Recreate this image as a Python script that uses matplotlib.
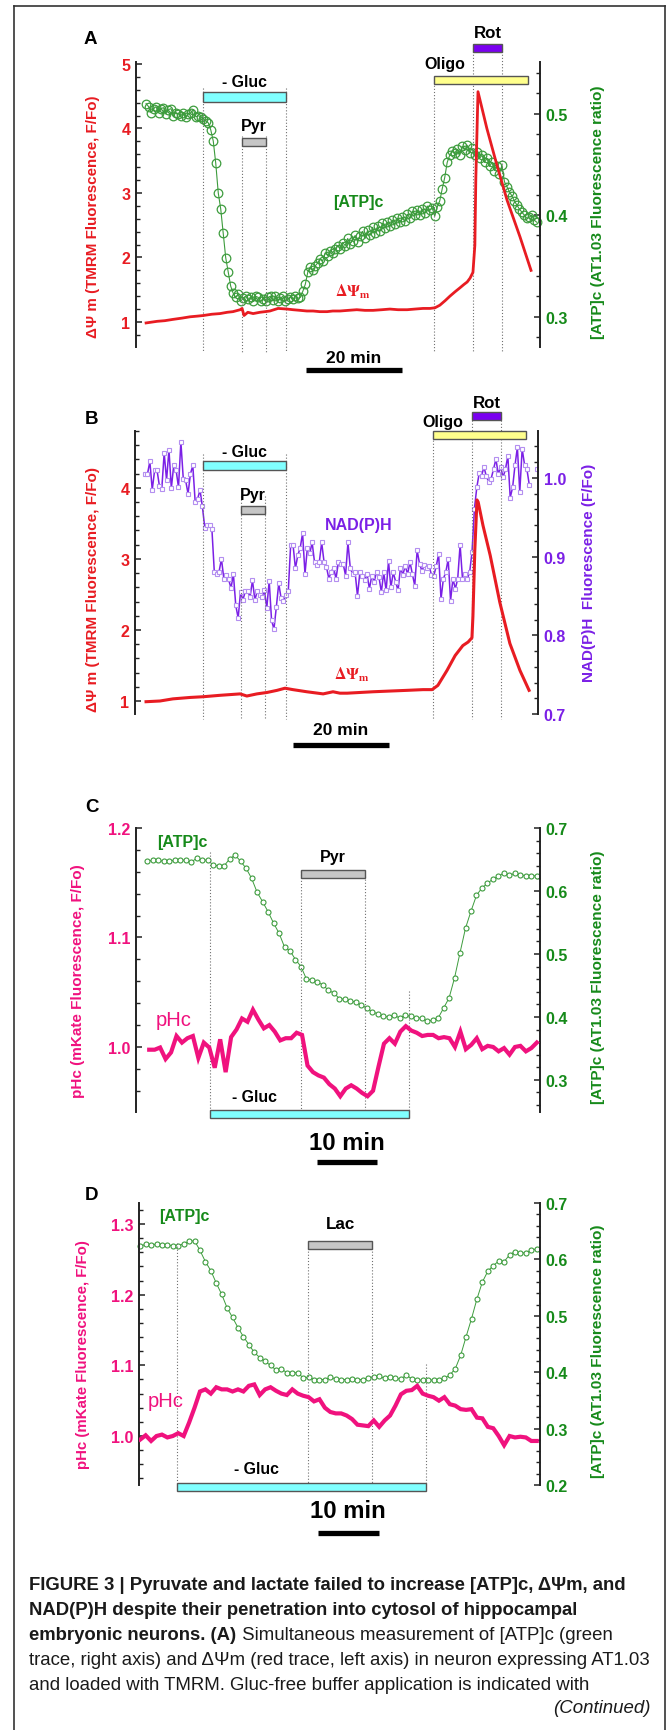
import numpy as np
import matplotlib
matplotlib.use("Agg")
import matplotlib.pyplot as plt
from matplotlib.patches import Rectangle
from matplotlib.lines import Line2D
from matplotlib.transforms import blended_transform_factory
from matplotlib.ticker import MultipleLocator, FormatStrFormatter
from matplotlib import font_manager

# ---------------------------------------------------------------- data
# Panel A : [ATP]c (right axis) sampled regularly between these times (min)
atp_a_t = (2.1, 83.5)
atp_a = [0.510, 0.507, 0.501, 0.505, 0.507, 0.501, 0.505, 0.506, 0.500, 0.504,
         0.505, 0.498, 0.501, 0.500, 0.498, 0.501, 0.497, 0.500, 0.501, 0.504,
         0.497, 0.498, 0.497, 0.495, 0.493, 0.491, 0.484, 0.473, 0.451, 0.422,
         0.406, 0.382, 0.358, 0.344, 0.330, 0.323, 0.319, 0.322, 0.315, 0.318,
         0.320, 0.317, 0.319, 0.315, 0.320, 0.319, 0.315, 0.317, 0.315, 0.319,
         0.320, 0.316, 0.320, 0.315, 0.318, 0.320, 0.315, 0.317, 0.319, 0.317,
         0.320, 0.318, 0.319, 0.325, 0.332, 0.344, 0.349, 0.346, 0.350, 0.353,
         0.357, 0.355, 0.363, 0.360, 0.365, 0.363, 0.367, 0.370, 0.367,
         0.373, 0.370, 0.377, 0.372, 0.375, 0.380, 0.374, 0.379, 0.384, 0.377,
         0.385, 0.380, 0.388, 0.382, 0.389, 0.384, 0.392, 0.387, 0.393, 0.389,
         0.395, 0.391, 0.397, 0.393, 0.398, 0.394, 0.401, 0.397, 0.404, 0.400,
         0.405, 0.400, 0.406, 0.402, 0.409, 0.405, 0.407, 0.399, 0.408, 0.414,
         0.426, 0.437, 0.452, 0.459, 0.463, 0.461, 0.465, 0.459, 0.468, 0.464,
         0.469, 0.461, 0.466, 0.459, 0.462, 0.456, 0.459, 0.452, 0.456, 0.448,
         0.452, 0.444, 0.448, 0.441, 0.449, 0.433, 0.428, 0.423, 0.419, 0.414,
         0.410, 0.406, 0.403, 0.400, 0.397, 0.398, 0.400, 0.395, 0.393]

# Panel A : delta psi m (left axis)
dpsi_a_t = [2.1, 4.4, 6.0, 7.7, 9.6, 11.25, 12.7, 14.0, 15.8, 17.5, 19.0, 20.2, 21.7,
            22.1, 22.5, 23.3, 24.4, 25.8, 26.9, 27.9, 29.6, 31.5, 32.7, 34.2, 35.6,
            36.9, 38.3, 39.8, 41.0, 42.5, 44.2, 46.0, 47.7, 49.4, 51.25, 52.9, 54.6,
            56.5, 58.1, 59.8, 61.25, 62.3, 63.3, 64.4, 65.4, 66.5, 67.5, 68.3, 69.0,
            69.6, 70.2, 70.6, 70.8, 71.25, 73.1, 75.2, 77.3, 80.0, 82.3]
dpsi_a = [0.985, 1.01, 1.02, 1.04, 1.06, 1.08, 1.09, 1.10, 1.12, 1.13, 1.15, 1.16, 1.19,
          1.21, 1.10, 1.15, 1.13, 1.15, 1.16, 1.17, 1.21, 1.20, 1.19, 1.18, 1.17,
          1.17, 1.16, 1.16, 1.17, 1.17, 1.18, 1.19, 1.18, 1.18, 1.19, 1.20, 1.19,
          1.19, 1.20, 1.21, 1.21, 1.22, 1.26, 1.33, 1.40, 1.47, 1.53, 1.58, 1.62,
          1.68, 1.77, 2.19, 3.22, 4.57, 4.00, 3.43, 2.89, 2.32, 1.80]

# Panel B : NAD(P)H (right axis), regular sampling between these times (min)
nadh_b_t = (2.1, 82.15)
nadh_b = [1.005, 1.005, 1.021, 0.985, 1.010, 1.010, 0.990, 0.986, 1.032, 0.997,
          1.036, 0.987, 1.016, 1.010, 0.988, 1.046, 0.999, 0.997, 0.980, 1.005,
          1.016, 0.969, 0.973, 0.985, 0.964, 0.937, 0.940, 0.940, 0.935, 0.881,
          0.878, 0.881, 0.897, 0.872, 0.877, 0.871, 0.860, 0.878, 0.838, 0.822,
          0.855, 0.845, 0.856, 0.856, 0.849, 0.870, 0.845, 0.856, 0.851, 0.849,
          0.857, 0.835, 0.869, 0.819, 0.808, 0.836, 0.866, 0.847, 0.843, 0.851,
          0.856, 0.915, 0.915, 0.885, 0.902, 0.911, 0.930, 0.878, 0.911, 0.904,
          0.918, 0.893, 0.890, 0.893, 0.918, 0.893, 0.887, 0.872, 0.881, 0.886,
          0.872, 0.893, 0.891,
          0.891, 0.876, 0.918, 0.885, 0.878, 0.880, 0.850, 0.880, 0.876, 0.870,
          0.878, 0.859, 0.876, 0.868, 0.881, 0.874, 0.855, 0.880, 0.857, 0.894,
          0.861, 0.880, 0.868, 0.857, 0.886, 0.877, 0.888, 0.878, 0.893, 0.878,
          0.863, 0.908, 0.891, 0.882, 0.889, 0.885, 0.888, 0.877, 0.876, 0.888,
          0.903, 0.846, 0.872, 0.880, 0.897, 0.844, 0.872, 0.859, 0.872, 0.915,
          0.872, 0.878, 0.872, 0.880, 0.906, 0.961, 0.988, 1.006, 1.003, 1.014,
          1.002, 0.995, 0.999, 1.011, 1.024, 1.005, 1.014, 1.001, 1.011, 1.028,
          0.975, 0.988, 1.016, 1.039, 0.982, 1.037, 1.017, 1.011, 0.991]
nadh_b_last_t = 83.75
nadh_b_last = 1.012

# Panel B : delta psi m (left axis)
dpsi_b_t = [2.3, 5.2, 7.9, 11.5, 14.2, 17.7, 21.9, 23.3, 25.4, 27.5, 29.6, 31.25, 32.9,
            35.8, 39.2, 41.25, 42.7, 44.2, 46.9, 49.6, 53.1, 56.7, 60.0, 61.9, 63.1,
            65.0, 66.7, 68.3, 69.4, 70.2, 70.4, 70.8, 71.25, 71.5, 72.5, 74.0, 76.0,
            78.1, 80.2, 82.1]
dpsi_b = [0.99, 1.00, 1.03, 1.05, 1.06, 1.08, 1.10, 1.07, 1.10, 1.12, 1.15, 1.18, 1.16,
          1.13, 1.10, 1.13, 1.11, 1.11, 1.12, 1.13, 1.14, 1.15, 1.16, 1.16, 1.22,
          1.43, 1.64, 1.78, 1.83, 1.89, 2.19, 3.13, 3.83, 3.80, 3.47, 3.05, 2.39,
          1.81, 1.43, 1.15]

# Panel C : [ATP]c (right) and pHc (left), regular sampling
atp_c_t = (1.9, 66.8)
atp_c = [0.647, 0.649, 0.649, 0.647, 0.648, 0.649, 0.649, 0.649, 0.646, 0.652,
         0.649, 0.649, 0.641, 0.640, 0.640, 0.651, 0.657, 0.647, 0.636, 0.620,
         0.598, 0.583, 0.567, 0.549, 0.533, 0.511, 0.505, 0.491, 0.480, 0.460,
         0.459, 0.455, 0.451, 0.442, 0.438, 0.429,
         0.428, 0.426, 0.423, 0.419, 0.414, 0.408, 0.405, 0.401, 0.400, 0.403,
         0.398, 0.403, 0.401, 0.399, 0.398, 0.393, 0.395, 0.398, 0.414, 0.430,
         0.462, 0.502, 0.541, 0.568, 0.593, 0.605, 0.612, 0.619, 0.623, 0.629,
         0.625, 0.628, 0.626, 0.624, 0.624, 0.624]
phc_c_t = (2.2, 66.8)
phc_c = [0.9975, 0.9975, 0.9995, 0.989, 0.995, 1.010, 1.004, 1.008, 1.010, 0.990,
         1.004, 0.9995, 0.981, 1.007, 0.977, 1.009, 1.016, 1.026, 1.023, 1.034,
         1.025, 1.017, 1.020, 1.014, 1.006, 1.008, 1.008, 1.013, 1.011, 0.983,
         0.977, 0.974, 0.972, 0.966, 0.962, 0.955,
         0.962, 0.965, 0.962, 0.958, 0.955, 0.960, 0.982, 1.003, 1.008, 1.003,
         1.014, 1.019, 1.015, 1.013, 1.010, 1.011, 1.011, 1.008, 1.009, 1.008,
         1.000, 1.014, 0.998, 1.002, 1.008, 0.998, 1.001, 1.000, 0.996, 0.999,
         0.993, 1.000, 1.001, 0.996, 0.999, 1.004]

# Panel D : [ATP]c (right) and pHc (left), regular sampling
atp_d_t = (0.2, 65.2)
atp_d = [0.623, 0.627, 0.626, 0.627, 0.626, 0.626, 0.624, 0.624, 0.628, 0.632,
         0.633, 0.616, 0.596, 0.580, 0.558, 0.538, 0.514, 0.497, 0.479, 0.463,
         0.449, 0.435, 0.426, 0.419, 0.412, 0.404, 0.406, 0.399, 0.399, 0.399,
         0.390, 0.391, 0.387, 0.387, 0.387, 0.391, 0.388,
         0.387, 0.387, 0.388, 0.387, 0.387, 0.390, 0.392, 0.393, 0.389, 0.391,
         0.389, 0.388, 0.395, 0.388, 0.386, 0.386, 0.386, 0.386, 0.386, 0.389,
         0.395, 0.406, 0.430, 0.463, 0.495, 0.530, 0.560, 0.579, 0.589, 0.597,
         0.596, 0.608, 0.614, 0.611, 0.612, 0.616, 0.619]
phc_d_t = (0.2, 65.2)
phc_d = [0.995, 1.001, 0.993, 1.000, 1.002, 0.998, 1.000, 1.004, 1.000, 1.019,
         1.040, 1.063, 1.066, 1.060, 1.069, 1.066, 1.066, 1.063, 1.066, 1.063,
         1.071, 1.073, 1.058, 1.066, 1.069, 1.064, 1.060, 1.058, 1.066, 1.060,
         1.057, 1.055, 1.049, 1.052, 1.040, 1.034, 1.032,
         1.032, 1.029, 1.024, 1.016, 1.015, 1.014, 1.022, 1.013, 1.022, 1.029,
         1.043, 1.059, 1.064, 1.065, 1.071, 1.060, 1.057, 1.055, 1.050, 1.055,
         1.045, 1.043, 1.038, 1.037, 1.038, 1.026, 1.025, 1.013, 1.011, 1.000,
         0.987, 1.000, 0.998, 0.999, 0.998, 0.993, 0.993]

# treatment periods (min)
gluc_ab = [(14.0, 31.25), (14.2, 31.5)]
pyr_ab = [(22.1, 27.1), (22.1, 27.1)]
oligo_ab = [(62.1, 81.7), (62.1, 81.5)]
rot_ab = [(70.2, 76.25), (70.2, 76.25)]
gluc_c, pyr_c = (12.3, 45.5), (27.5, 38.2)
gluc_d, lac_d = (6.2, 47.0), (27.7, 38.2)
scale_a, scale_b = (35.4, 55.4), (32.9, 52.9)
scale_c, scale_d = (30.2, 40.2), (29.3, 39.3)

# ---------------------------------------------------------------- style
plt.rcParams['font.family'] = ['Liberation Sans', 'DejaVu Sans']
plt.rcParams['font.weight'] = 'bold'
RED = '#e81c22'
GREEN = '#168a1a'
GREEN_M = '#3d9c3d'
PURPLE = '#7b20e6'
PURPLE_M = '#b48ff0'
PINK = '#f0127e'
CYAN = '#80ffff'
GRAY = '#c6c6c6'
YELLOW = '#ffff8c'
ROT = '#7a00f0'
SPINE = '#222222'

W, H = 671, 1731
fig = plt.figure(figsize=(W / 100, H / 100), dpi=100)
fig.patch.set_facecolor('white')
renderer = fig.canvas.get_renderer()


def fit(t, target, dim='w'):
    bb = t.get_window_extent(renderer)
    cur = bb.width if dim == 'w' else bb.height
    t.set_fontsize(t.get_fontsize() * target / cur)
    return t


def px_axes(x0, x1, y0, y1):
    return fig.add_axes([x0 / W, 1 - y1 / H, (x1 - x0) / W, (y1 - y0) / H])


def setup(ax, ax2, xlim, yl, yr, majl, minl, majr, minr, fmtl, fmtr, coll, colr):
    ax.set_zorder(ax2.get_zorder() + 1)
    ax.patch.set_visible(False)
    for a in (ax, ax2):
        a.set_xticks([])
        a.spines['top'].set_visible(False)
        a.spines['bottom'].set_visible(False)
        a.set_xlim(xlim)
    ax.spines['right'].set_visible(False)
    ax2.spines['left'].set_visible(False)
    ax.spines['left'].set_color(SPINE)
    ax.spines['left'].set_linewidth(1.4)
    ax2.spines['right'].set_color(SPINE)
    ax2.spines['right'].set_linewidth(1.4)
    ax.set_ylim(yl)
    ax2.set_ylim(yr)
    ax.yaxis.set_major_locator(MultipleLocator(majl))
    ax.yaxis.set_minor_locator(MultipleLocator(minl))
    ax2.yaxis.set_major_locator(MultipleLocator(majr))
    ax2.yaxis.set_minor_locator(MultipleLocator(minr))
    ax.yaxis.set_major_formatter(FormatStrFormatter(fmtl))
    ax2.yaxis.set_major_formatter(FormatStrFormatter(fmtr))
    for a, c in ((ax, coll), (ax2, colr)):
        a.tick_params(axis='y', which='major', direction='in', length=4.5, width=1.1,
                      color=SPINE, labelcolor=c, labelsize=11.5, pad=4)
        a.tick_params(axis='y', which='minor', direction='in', length=2.8, width=1.0,
                      color=SPINE)
        for lab in a.get_yticklabels():
            lab.set_fontweight('bold')


def tr(ax):
    return blended_transform_factory(ax.transData, ax.transAxes)


def bar(ax, t, f0, f1, fc):
    ax.add_patch(Rectangle((t[0], f0), t[1] - t[0], f1 - f0, transform=tr(ax),
                           fc=fc, ec='#555555', lw=1.0, clip_on=False, zorder=6))


def vline(ax, t, f0, f1):
    ax.add_line(Line2D([t, t], [f0, f1], transform=tr(ax), ls=(0, (1, 1.8)), lw=0.8,
                       color='#707070', clip_on=False, zorder=1))


def label(ax, t, f, s, width, color='black', weight='bold', **kw):
    txt = ax.text(t, f, s, transform=tr(ax), ha='center', va='center', fontsize=10,
                  color=color, fontweight=weight, clip_on=False, zorder=7, **kw)
    return fit(txt, width)


def scalebar(ax, t, f, ft, s, width):
    ax.add_line(Line2D([t[0], t[1]], [f, f], transform=tr(ax), lw=3.8, color='black',
                       solid_capstyle='butt', clip_on=False))
    label(ax, (t[0] + t[1]) / 2, ft, s, width)


def ylab(ax, x, y, s, color, length):
    txt = ax.text(x, y, s, transform=ax.transAxes, rotation=90, ha='center',
                  va='center', color=color, fontsize=10, fontweight='bold')
    fit(txt, length, 'h')


def dpsi_label(ax, t, f):
    label(ax, t, f, r'$\Delta\Psi_{\mathrm{m}}$', 36, color=RED, weight='normal',
          math_fontfamily='stix')


def series_t(span, n):
    return np.linspace(span[0], span[1], n)


# ================================================================ Panel A
ax = px_axes(136, 540, 63, 348)
ax2 = ax.twinx()
ax2.plot(series_t(atp_a_t, len(atp_a)), atp_a, '-', color=GREEN_M, lw=0.8,
         marker='o', ms=6.2, mfc='none', mec=GREEN_M, mew=0.9, clip_on=False)
ax.plot(dpsi_a_t, dpsi_a, '-', color=RED, lw=2.0, zorder=4)
setup(ax, ax2, (0, 84.17), (0.612, 5.03), (0.270, 0.551), 1, 0.2, 0.1, 0.02,
      '%d', '%.1f', RED, GREEN)
bar(ax, gluc_ab[0], 0.860, 0.895, CYAN)
bar(ax, pyr_ab[0], 0.705, 0.733, GRAY)
bar(ax, oligo_ab[0], 0.923, 0.951, YELLOW)
bar(ax, rot_ab[0], 1.035, 1.063, ROT)
for t in gluc_ab[0]:
    vline(ax, t, 0.91, -0.018)
for t in pyr_ab[0]:
    vline(ax, t, 0.74, -0.018)
vline(ax, oligo_ab[0][0], 0.94, -0.018)
for t in rot_ab[0]:
    vline(ax, t, 1.05, -0.018)
label(ax, 22.6, 0.930, '- Gluc', 45)
label(ax, 24.6, 0.777, 'Pyr', 26)
label(ax, 64.4, 0.993, 'Oligo', 41)
label(ax, 73.3, 1.105, 'Rot', 28)
label(ax, 46.3, 0.509, '[ATP]c', 50, color=GREEN)
dpsi_label(ax, 45.2, 0.196)
scalebar(ax, scale_a, -0.081, -0.036, '20 min', 55)
ylab(ax, -0.106, 0.460, 'ΔΨ m (TMRM Fluorescence, F/Fo)', RED, 242)
ylab(ax2, 1.144, 0.477, '[ATP]c (AT1.03 Fluorescence ratio)', GREEN, 253)
ax.set_xlim(0, 84.17); ax.set_ylim(0.612, 5.03)

# ================================================================ Panel B
bx = px_axes(135, 538, 432, 715)
bx2 = bx.twinx()
bx2.plot(series_t(nadh_b_t, len(nadh_b)), nadh_b, '-', color=PURPLE, lw=1.1,
         marker='s', ms=3.2, mfc='white', mec=PURPLE_M, mew=0.8)
bx2.plot([nadh_b_last_t], [nadh_b_last], 's', ms=3.2, mfc='white', mec=PURPLE_M, mew=0.8)
bx.plot(dpsi_b_t, dpsi_b, '-', color=RED, lw=2.2, zorder=4)
setup(bx, bx2, (0, 83.96), (0.817, 4.80), (0.70, 1.0597), 1, 0.2, 0.1, 0.02,
      '%d', '%.1f', RED, PURPLE)
bar(bx, gluc_ab[1], 0.862, 0.894, CYAN)
bar(bx, pyr_ab[1], 0.707, 0.735, GRAY)
bar(bx, oligo_ab[1], 0.972, 1.0, YELLOW)
bar(bx, rot_ab[1], 1.039, 1.067, ROT)
for t in gluc_ab[1]:
    vline(bx, t, 0.919, -0.018)
for t in pyr_ab[1]:
    vline(bx, t, 0.77, -0.018)
vline(bx, oligo_ab[1][0], 0.98, -0.018)
for t in rot_ab[1]:
    vline(bx, t, 1.05, -0.018)
label(bx, 22.8, 0.929, '- Gluc', 45)
label(bx, 24.6, 0.777, 'Pyr', 26)
label(bx, 64.2, 1.035, 'Oligo', 41)
label(bx, 73.3, 1.102, 'Rot', 28)
label(bx, 46.5, 0.671, 'NAD(P)H', 67, color=PURPLE)
dpsi_label(bx, 45.2, 0.141)
scalebar(bx, scale_b, -0.110, -0.054, '20 min', 55)
ylab(bx, -0.104, 0.442, 'ΔΨ m (TMRM Fluorescence, F/Fo)', RED, 245)
ylab(bx2, 1.127, 0.502, 'NAD(P)H  Fluorescence (F/Fo)', PURPLE, 217)
bx.set_xlim(0, 83.96); bx.set_ylim(0.817, 4.80)

# ================================================================ Panel C
cx = px_axes(136, 540, 829, 1113)
cx2 = cx.twinx()
cx2.plot(series_t(atp_c_t, len(atp_c)), atp_c, '-', color=GREEN_M, lw=0.7,
         marker='o', ms=3.6, mfc='white', mec=GREEN_M, mew=0.8, clip_on=False)
cx.plot(series_t(phc_c_t, len(phc_c)), phc_c, '-', color=PINK, lw=3.0, zorder=4,
        solid_joinstyle='miter')
setup(cx, cx2, (0, 67.33), (0.9406, 1.2), (0.249, 0.7), 0.1, 0.02, 0.1, 0.02,
      '%.1f', '%.1f', PINK, GREEN)
bar(cx, gluc_c, -0.021, 0.007, CYAN)
bar(cx, pyr_c, 0.824, 0.852, GRAY)
vline(cx, gluc_c[0], 0.915, 0.007)
vline(cx, pyr_c[0], 0.85, 0.007)
vline(cx, pyr_c[1], 0.83, 0.007)
vline(cx, gluc_c[1], 0.426, 0.007)
label(cx, 19.8, 0.056, '- Gluc', 45)
label(cx, 32.8, 0.901, 'Pyr', 26)
label(cx, 7.7, 0.951, '[ATP]c', 50, color=GREEN)
label(cx, 6.2, 0.327, 'pHc', 36, color=PINK, weight='normal')
scalebar(cx, scale_c, -0.176, -0.106, '10 min', 76)
ylab(cx, -0.1436, 0.465, 'pHc (mKate Fluorescence, F/Fo)', PINK, 232)
ylab(cx2, 1.1436, 0.479, '[ATP]c (AT1.03 Fluorescence ratio)', GREEN, 253)
cx.set_xlim(0, 67.33); cx.set_ylim(0.9406, 1.2)

# ================================================================ Panel D
dx = px_axes(139, 540, 1204, 1486)
dx2 = dx.twinx()
dx2.plot(series_t(atp_d_t, len(atp_d)), atp_d, '-', color=GREEN_M, lw=0.7,
         marker='o', ms=3.6, mfc='white', mec=GREEN_M, mew=0.8, clip_on=False)
dx.plot(series_t(phc_d_t, len(phc_d)), phc_d, '-', color=PINK, lw=3.0, zorder=4,
        solid_joinstyle='miter')
setup(dx, dx2, (0, 65.74), (0.9307, 1.3297), (0.2, 0.7), 0.1, 0.02, 0.1, 0.02,
      '%.1f', '%.1f', PINK, GREEN)
bar(dx, gluc_d, -0.021, 0.007, CYAN)
bar(dx, lac_d, 0.837, 0.865, GRAY)
vline(dx, gluc_d[0], 0.858, 0.007)
vline(dx, lac_d[0], 0.84, 0.007)
vline(dx, lac_d[1], 0.84, 0.007)
vline(dx, gluc_d[1], 0.429, 0.007)
label(dx, 19.3, 0.057, '- Gluc', 45)
label(dx, 33.0, 0.926, 'Lac', 29)
label(dx, 7.5, 0.954, '[ATP]c', 50, color=GREEN)
label(dx, 4.3, 0.301, 'pHc', 36, color=PINK, weight='normal')
scalebar(dx, scale_d, -0.170, -0.092, '10 min', 76)
ylab(dx, -0.1397, 0.465, 'pHc (mKate Fluorescence, F/Fo)', PINK, 230)
ylab(dx2, 1.1446, 0.479, '[ATP]c (AT1.03 Fluorescence ratio)', GREEN, 252)
dx.set_xlim(0, 65.74); dx.set_ylim(0.9307, 1.3297)

# panel letters
for s, (x, y) in zip('ABCD', [(90, 40), (92, 420), (92, 808), (92, 1195)]):
    fig.text(x / W, 1 - y / H, s, fontsize=13.5, fontweight='bold', ha='center',
             va='center')

# outer frame
for xs, ys in (([14, 14], [H, 7]), ([14, 665], [7, 7]), ([665, 665], [7, H])):
    fig.add_artist(Line2D([x / W for x in xs], [1 - y / H for y in ys],
                          color='#333333', lw=1.2))

# ---------------------------------------------------------------- caption
try:
    font_manager.findfont(font_manager.FontProperties(family='Liberation Sans Narrow'),
                          fallback_to_default=False)
    CAP = ['Liberation Sans Narrow', 'DejaVu Sans']
except Exception:
    CAP = ['Liberation Sans', 'DejaVu Sans']


def cap_text(x, y, s, target_w, weight, style='normal', ha='left'):
    t = fig.text(x / W, 1 - y / H, s, family=CAP, fontsize=13, fontweight=weight,
                 fontstyle=style, ha=ha, va='baseline', color='#1a1a1a')
    return fit(t, target_w)


t1 = cap_text(29, 1590, 'FIGURE 3 | Pyruvate and lactate failed to increase [ATP]c, ΔΨm, and',
              598, 'bold')
bold_size = t1.get_fontsize()
t4 = cap_text(29, 1665, 'trace, right axis) and ΔΨm (red trace, left axis) in neuron expressing AT1.03',
              621, 'normal')
norm_size = t4.get_fontsize()
fig.text(29 / W, 1 - 1615 / H, 'NAD(P)H despite their penetration into cytosol of hippocampal',
         family=CAP, fontsize=bold_size, fontweight='bold', va='baseline', color='#1a1a1a')
tb = fig.text(29 / W, 1 - 1640 / H, 'embryonic neurons. (A)', family=CAP, fontsize=bold_size,
              fontweight='bold', va='baseline', color='#1a1a1a')
bw = tb.get_window_extent(renderer)
fig.text((bw.x1 + 1) / W, 1 - 1640 / H, ' Simultaneous measurement of [ATP]c (green',
         family=CAP, fontsize=norm_size, fontweight='normal', va='baseline', color='#1a1a1a')
fig.text(29 / W, 1 - 1690 / H, 'and loaded with TMRM. Gluc-free buffer application is indicated with',
         family=CAP, fontsize=norm_size, fontweight='normal', va='baseline', color='#1a1a1a')
fig.text(651 / W, 1 - 1713 / H, '(Continued)', family=CAP, fontsize=norm_size,
         fontweight='normal', fontstyle='italic', ha='right', va='baseline', color='#1a1a1a')

fig.savefig('out.png', dpi=100, facecolor='white')
